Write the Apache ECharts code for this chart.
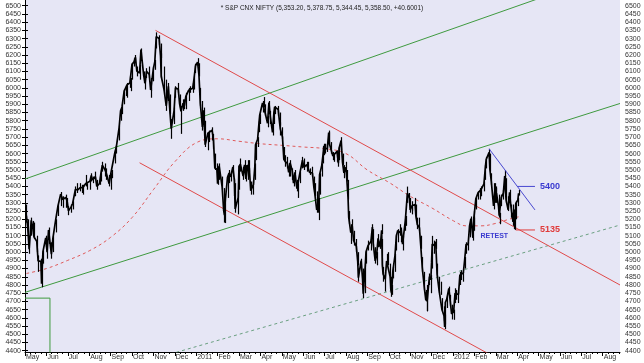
<!DOCTYPE html>
<html><head><meta charset="utf-8">
<script src="https://cdn.jsdelivr.net/npm/echarts@6/dist/echarts.min.js"></script>
<style>html,body{margin:0;padding:0;background:#fff}#c{width:644px;height:363px}</style>
</head><body><div id="c"></div>
<script>
// ---------- DATA ----------
const dates = [
'2010-05-03','2010-05-05','2010-05-07','2010-05-10','2010-05-12','2010-05-14','2010-05-18','2010-05-20','2010-05-24','2010-05-25','2010-05-27','2010-05-31',
'2010-06-02','2010-06-04','2010-06-08','2010-06-10','2010-06-14','2010-06-17','2010-06-21','2010-06-24','2010-06-28','2010-06-30',
'2010-07-02','2010-07-06','2010-07-08','2010-07-12','2010-07-15','2010-07-19','2010-07-21','2010-07-23','2010-07-27','2010-07-29',
'2010-08-02','2010-08-04','2010-08-06','2010-08-10','2010-08-12','2010-08-16','2010-08-18','2010-08-20','2010-08-24','2010-08-26','2010-08-30',
'2010-09-01','2010-09-03','2010-09-07','2010-09-09','2010-09-13','2010-09-15','2010-09-17','2010-09-20','2010-09-22','2010-09-24','2010-09-28','2010-09-30',
'2010-10-01','2010-10-04','2010-10-06','2010-10-08','2010-10-12','2010-10-14','2010-10-18','2010-10-20','2010-10-22','2010-10-26','2010-10-28','2010-10-29',
'2010-11-01','2010-11-03','2010-11-05','2010-11-09','2010-11-11','2010-11-12','2010-11-16','2010-11-18','2010-11-19','2010-11-22','2010-11-24','2010-11-26','2010-11-30',
'2010-12-02','2010-12-06','2010-12-08','2010-12-10','2010-12-13','2010-12-15','2010-12-17','2010-12-21','2010-12-23','2010-12-27','2010-12-29','2010-12-31',
'2011-01-03','2011-01-05','2011-01-07','2011-01-10','2011-01-12','2011-01-14','2011-01-18','2011-01-20','2011-01-24','2011-01-26','2011-01-28','2011-01-31',
'2011-02-01','2011-02-03','2011-02-07','2011-02-09','2011-02-10','2011-02-11','2011-02-14','2011-02-16','2011-02-18','2011-02-21','2011-02-23','2011-02-24','2011-02-28',
'2011-03-01','2011-03-03','2011-03-07','2011-03-09','2011-03-11','2011-03-14','2011-03-16','2011-03-18','2011-03-22','2011-03-24','2011-03-25','2011-03-28','2011-03-30','2011-03-31',
'2011-04-04','2011-04-06','2011-04-08','2011-04-11','2011-04-13','2011-04-15','2011-04-18','2011-04-20','2011-04-21','2011-04-26','2011-04-28','2011-04-29',
'2011-05-02','2011-05-04','2011-05-06','2011-05-09','2011-05-11','2011-05-13','2011-05-16','2011-05-18','2011-05-20','2011-05-23','2011-05-25','2011-05-27','2011-05-31',
'2011-06-02','2011-06-06','2011-06-08','2011-06-10','2011-06-14','2011-06-16','2011-06-17','2011-06-20','2011-06-22','2011-06-23','2011-06-24','2011-06-27','2011-06-29','2011-06-30',
'2011-07-01','2011-07-05','2011-07-07','2011-07-08','2011-07-11','2011-07-13','2011-07-15','2011-07-19','2011-07-21','2011-07-22','2011-07-25','2011-07-27','2011-07-29',
'2011-08-01','2011-08-02','2011-08-04','2011-08-05','2011-08-08','2011-08-10','2011-08-12','2011-08-16','2011-08-18','2011-08-19','2011-08-23','2011-08-25','2011-08-26','2011-08-29','2011-08-30',
'2011-09-02','2011-09-06','2011-09-08','2011-09-09','2011-09-12','2011-09-14','2011-09-16','2011-09-19','2011-09-21','2011-09-22','2011-09-23','2011-09-26','2011-09-28','2011-09-30',
'2011-10-03','2011-10-04','2011-10-05','2011-10-07','2011-10-10','2011-10-12','2011-10-14','2011-10-17','2011-10-19','2011-10-21','2011-10-25','2011-10-26','2011-10-28','2011-10-31',
'2011-11-01','2011-11-03','2011-11-04','2011-11-08','2011-11-09','2011-11-11','2011-11-14','2011-11-16','2011-11-18','2011-11-21','2011-11-23','2011-11-24','2011-11-25','2011-11-28','2011-11-30',
'2011-12-01','2011-12-02','2011-12-05','2011-12-07','2011-12-09','2011-12-12','2011-12-14','2011-12-16','2011-12-19','2011-12-20','2011-12-21','2011-12-23','2011-12-26','2011-12-28','2011-12-30',
'2012-01-02','2012-01-04','2012-01-06','2012-01-09','2012-01-11','2012-01-13','2012-01-16','2012-01-18','2012-01-20','2012-01-23','2012-01-25','2012-01-27','2012-01-30','2012-01-31',
'2012-02-01','2012-02-03','2012-02-06','2012-02-08','2012-02-10','2012-02-14','2012-02-16','2012-02-17','2012-02-21','2012-02-22','2012-02-24','2012-02-27','2012-02-29',
'2012-03-01','2012-03-02','2012-03-05','2012-03-06','2012-03-07','2012-03-09','2012-03-12','2012-03-14','2012-03-15','2012-03-16','2012-03-19','2012-03-21','2012-03-23','2012-03-26','2012-03-27','2012-03-28','2012-03-29','2012-03-30',
'2012-04-02','2012-04-03'
];
const highs = [
5290,5200,5100,5210,5190,5180,5100,4980,4960,4900,5010,5100,
5070,5150,5060,5100,5200,5290,5366,5340,5350,5330,
5280,5290,5310,5400,5420,5420,5410,5410,5470,5420,
5440,5480,5460,5490,5440,5460,5500,5550,5540,5510,5470,
5480,5500,5620,5650,5770,5870,5900,5990,6010,6030,6070,6060,
6150,6180,6200,6130,6140,6240,6100,6070,6120,6130,6060,6030,
6130,6170,6338,6320,6270,6210,6130,6050,5990,6030,5960,5810,5880,
6010,6030,5960,5890,5930,5930,5970,6000,6010,6030,6070,6147,
6181,6150,6000,5920,5880,5800,5730,5740,5760,5720,5600,5540,
5520,5540,5460,5390,5280,5320,5470,5500,5490,5530,5450,5420,5370,
5530,5570,5520,5560,5530,5560,5560,5430,5430,5540,5670,5700,5800,5840,
5920,5944,5900,5830,5920,5860,5790,5860,5890,5890,5850,5790,
5760,5640,5590,5580,5540,5560,5510,5460,5500,5440,5420,5490,5580,
5570,5550,5550,5510,5520,5460,5420,5370,5310,5330,5480,5540,5610,5660,
5660,5660,5740,5730,5670,5610,5600,5620,5580,5640,5700,5600,5530,
5550,5500,5440,5250,5170,5200,5130,5080,5000,4900,4960,4900,4850,4930,5010,
5070,5080,5170,5140,5030,5000,5110,5070,5170,5080,4910,4880,4990,5000,
4930,4850,4800,4910,4990,5110,5140,5170,5150,5100,5200,5220,5399,5360,
5330,5280,5310,5330,5290,5210,5210,5100,4970,4880,4770,4800,4760,4870,4860,
5000,5099,5070,5080,4930,4850,4820,4720,4670,4620,4700,4730,4790,4740,4680,
4650,4780,4770,4760,4880,4890,4880,4970,5060,5060,5170,5217,5140,5210,
5250,5330,5370,5390,5400,5430,5530,5580,5629,5600,5480,5420,5420,
5390,5400,5350,5280,5240,5350,5380,5499,5470,5450,5340,5380,5290,5290,5260,5240,5200,5310,
5330,5378.75
];
const lows = [
5180,5100,4990,5100,5110,5080,5000,4880,4880,4786,4930,5030,
4960,5050,4960,5000,5120,5220,5280,5270,5270,5280,
5225,5240,5260,5340,5360,5370,5360,5350,5400,5380,
5380,5430,5420,5440,5380,5410,5430,5490,5460,5440,5400,
5380,5450,5540,5600,5680,5800,5840,5900,5950,5940,6000,5980,
6050,6130,6150,6070,6050,6180,6030,5990,6060,6060,5980,5940,
6040,6110,6240,6260,6180,6060,5980,5960,5860,5920,5840,5690,5780,
5940,5970,5880,5720,5860,5870,5870,5920,5970,5970,5990,6090,
6130,6070,5890,5740,5750,5640,5620,5670,5680,5630,5500,5480,
5410,5440,5380,5240,5180,5177,5330,5420,5430,5460,5340,5240,5230,
5380,5490,5440,5480,5430,5440,5490,5350,5350,5440,5560,5640,5730,5780,
5850,5880,5830,5760,5840,5780,5710,5780,5840,5830,5770,5710,
5690,5560,5520,5510,5460,5460,5440,5400,5430,5370,5330,5420,5510,
5500,5490,5500,5470,5460,5380,5340,5240,5240,5195,5350,5460,5540,5590,
5600,5610,5660,5650,5600,5560,5550,5550,5520,5560,5620,5530,5450,
5480,5430,5320,5170,5050,5120,5040,5000,4920,4820,4890,4820,4720,4750,4930,
5010,5010,5100,5040,4930,4920,5030,5020,5110,4910,4820,4760,4920,4920,
4840,4728,4740,4840,4880,5010,5060,5100,5060,5010,5130,5160,5300,5300,
5240,5230,5250,5260,5200,5140,5130,5020,4880,4770,4700,4640,4640,4800,4750,
4900,4990,4990,5020,4850,4750,4740,4640,4580,4531,4560,4660,4720,4670,4590,
4588,4690,4710,4690,4800,4830,4820,4900,4990,5010,5090,5150,5070,5130,
5160,5260,5320,5320,5340,5370,5440,5510,5570,5490,5410,5260,5300,
5300,5330,5270,5210,5170,5280,5320,5390,5370,5300,5250,5320,5210,5160,5180,5140,5135,5200,
5280,5344.45
];
const closes = [
5223,5148,5018,5193,5156,5093,5066,4947,4944,4807,5003,5087,
5000,5135,4987,5080,5197,5276,5353,5320,5333,5312,
5251,5277,5296,5382,5378,5393,5399,5393,5418,5408,
5431,5467,5439,5460,5400,5418,5480,5530,5500,5477,5416,
5471,5479,5607,5640,5760,5860,5884,5980,5991,6018,6030,6030,
6143,6159,6186,6103,6090,6233,6075,6027,6101,6082,5988,6018,
6117,6160,6312,6301,6194,6071,5988,5988,5890,6010,5865,5752,5862,
6000,5992,5903,5857,5907,5892,5948,5985,5980,5998,6060,6134,
6157,6079,5904,5762,5863,5654,5724,5712,5743,5687,5512,5505,
5417,5526,5396,5253,5225,5310,5456,5481,5458,5518,5437,5262,5333,
5522,5536,5463,5531,5445,5531,5511,5374,5413,5522,5654,5687,5787,5833,
5908,5910,5842,5785,5911,5824,5729,5851,5884,5868,5785,5749,
5701,5565,5551,5541,5485,5544,5499,5420,5486,5386,5395,5476,5560,
5516,5532,5526,5485,5482,5396,5366,5257,5278,5321,5472,5526,5600,5647,
5627,5632,5728,5660,5616,5585,5581,5613,5541,5633,5680,5546,5482,
5516,5457,5332,5211,5118,5161,5072,5035,4944,4845,4948,4839,4747,4919,5001,
5040,5064,5153,5059,4946,4980,5084,5031,5133,4923,4867,4835,4946,4943,
4849,4772,4751,4888,4979,5099,5132,5118,5139,5049,5192,5201,5360,5326,
5257,5265,5284,5289,5221,5168,5148,5030,4905,4778,4706,4756,4710,4851,4832,
4936,5050,5040,5063,4866,4764,4764,4651,4613,4544,4693,4714,4779,4705,4624,
4636,4749,4754,4742,4860,4866,4873,4955,5048,5046,5158,5204,5087,5199,
5236,5325,5361,5368,5381,5416,5521,5564,5607,5505,5429,5281,5385,
5339,5359,5280,5222,5220,5333,5359,5463,5380,5317,5257,5364,5278,5184,5243,5194,5179,5296,
5318,5358.5
];
// moving average (dashed red)
const maDates = ['2010-05-03','2010-06-01','2010-07-01','2010-08-02','2010-09-01','2010-10-01','2010-11-01','2010-12-01','2011-01-03','2011-02-01','2011-03-01','2011-04-01','2011-05-02','2011-06-01','2011-07-01','2011-08-01','2011-09-01','2011-10-03','2011-11-01','2011-12-01','2012-01-02','2012-01-20','2012-02-10','2012-03-01','2012-03-20','2012-04-03'];
const maValues = [4870,4900,4950,5010,5090,5210,5380,5550,5670,5690,5675,5660,5650,5640,5630,5600,5500,5420,5340,5270,5190,5160,5160,5175,5200,5215];

// trend lines: [date, price] end points
const greenTop = [['2010-05-01',5445],['2012-08-26',6718]];
const greenMid = [['2010-05-01',4755],['2012-08-26',5905]];
const greenLow = [['2010-11-25',4380],['2012-08-26',5165]];
const redUpper = [['2010-11-04',6350],['2012-08-26',4800]];
const redLower = [['2010-10-12',5544],['2012-08-26',3943]];
const blueLine = [['2012-02-21',5629],['2012-04-26',5257]];
const greenBox = [['2010-05-01',4720],['2010-06-06',4720],['2010-06-06',4300]];
const level5400 = [['2012-04-01',5400],['2012-04-26',5400]];
const level5135 = [['2012-03-30',5135],['2012-04-26',5135]];
const retestAt = ['2012-02-28',5100];

const monthLabels = ['May','Jun','Jul','Aug','Sep','Oct','Nov','Dec','2011','Feb','Mar','Apr','May','Jun','Jul','Aug','Sep','Oct','Nov','Dec','2012','Feb','Mar','Apr','May','Jun','Jul','Aug'];
const priceTicks = [4400,4450,4500,4550,4600,4650,4700,4750,4800,4850,4900,4950,5000,5050,5100,5150,5200,5250,5300,5350,5400,5450,5500,5550,5600,5650,5700,5750,5800,5850,5900,5950,6000,6050,6100,6150,6200,6250,6300,6350,6400,6450,6500];
const titleText = '* S&P CNX NIFTY (5,353.20, 5,378.75, 5,344.45, 5,358.50, +40.6001)';

// ---------- HELPERS ----------
function toM(s){const p=s.split('-').map(Number);const dim=new Date(p[0],p[1],0).getDate();return (p[0]-2010)*12+(p[1]-5)+(p[2]-1)/dim;}
const XMAX = toM('2012-08-26');
const monthTicks = monthLabels.map((_,i)=>i);
const minorTicks = [];
for(let i=0;i<monthLabels.length+1;i++){[0.25,0.5,0.75].forEach(f=>{if(i+f<XMAX)minorTicks.push(i+f);});}
const pts = a => a.map(d=>[toM(d[0]),d[1]]);
const n = Math.min(dates.length,highs.length,lows.length,closes.length);
const barData=[],closeData=[];
for(let i=0;i<n;i++){const m=toM(dates[i]);barData.push([m,lows[i],highs[i]]);closeData.push([m,closes[i]]);}
const maData = maDates.map((d,i)=>[toM(d),maValues[i]]);

const FONT = '"Liberation Sans", Arial, sans-serif';
const lineS = (data,color,width,type,z) => ({type:'line',data:pts(data),symbol:'none',silent:true,animation:false,z:z||3,
  lineStyle:{color:color,width:width,type:type||'solid'}});

const chart = echarts.init(document.getElementById('c'),null,{renderer:'canvas'});
const yBase = {type:'value',min:4392,max:6535,splitLine:{show:false},
  axisLine:{show:true,lineStyle:{color:'#000',width:1}},
  axisTick:{show:true,length:3,customValues:priceTicks,lineStyle:{color:'#000'}},
  axisLabel:{customValues:priceTicks,formatter:v=>String(v),fontSize:7,color:'#333',fontFamily:FONT}};
chart.setOption({
  animation:false,
  title:{text:titleText,left:'center',top:0,textStyle:{fontSize:6.5,fontWeight:'normal',color:'#222',fontFamily:FONT}},
  grid:{left:25,right:24,top:0,bottom:11,show:true,backgroundColor:'#E6E6F5',borderWidth:0},
  xAxis:[
    {type:'value',min:0,max:XMAX,position:'bottom',splitLine:{show:false},
     axisLine:{show:true,onZero:false,lineStyle:{color:'#000'}},
     axisTick:{show:true,length:4,customValues:monthTicks,lineStyle:{color:'#000'}},
     axisLabel:{customValues:monthTicks,formatter:v=>monthLabels[Math.round(v)]||'',align:'left',margin:2,padding:[0,0,0,1],fontSize:7,color:'#333',fontFamily:FONT}},
    {type:'value',min:0,max:XMAX,position:'bottom',splitLine:{show:false},
     axisLine:{show:false,onZero:false},
     axisTick:{show:true,length:2,customValues:minorTicks,lineStyle:{color:'#000'}},
     axisLabel:{show:false}}
  ],
  yAxis:[
    Object.assign({},yBase,{position:'left',axisLabel:Object.assign({},yBase.axisLabel,{margin:4})}),
    Object.assign({},yBase,{position:'right',axisLabel:Object.assign({},yBase.axisLabel,{margin:5})})
  ],
  series:[
    lineS(greenTop,'#3f9a3f',1),
    lineS(greenMid,'#3f9a3f',1),
    lineS(greenLow,'#6a9f80',1,[3,3]),
    lineS(greenBox,'#3f9a3f',1),
    lineS(redUpper,'#e04a4a',1),
    lineS(redLower,'#e04a4a',1),
    {type:'line',data:maData,symbol:'none',smooth:0.4,silent:true,z:3,lineStyle:{color:'#e05a5a',width:1,type:[3,3]}},
    {type:'custom',data:barData,z:5,silent:true,encode:{x:0,y:[1,2]},
      renderItem:function(params,api){
        const p1=api.coord([api.value(0),api.value(1)]);const p2=api.coord([api.value(0),api.value(2)]);
        const x=Math.round(p1[0])+0.5;
        return {type:'line',shape:{x1:x,y1:p1[1],x2:x,y2:p2[1]},style:{stroke:'#000',lineWidth:1.2}};
      }},
    {type:'line',data:closeData,symbol:'none',silent:true,z:5,lineStyle:{color:'#000',width:1.7}},
    lineS(blueLine,'#4848d0',1,'solid',6),
    Object.assign(lineS(level5400,'#4848d0',1,'solid',6),{endLabel:{show:true,formatter:'5400',color:'#3a3ad0',fontWeight:'bold',fontSize:9,distance:5,fontFamily:FONT}}),
    Object.assign(lineS(level5135,'#e03a3a',1,'solid',6),{endLabel:{show:true,formatter:'5135',color:'#e03a3a',fontWeight:'bold',fontSize:9,distance:5,fontFamily:FONT}}),
    {type:'custom',data:[[toM(retestAt[0]),retestAt[1]]],z:7,silent:true,encode:{x:0,y:1},
      renderItem:function(params,api){
        const p=api.coord([api.value(0),api.value(1)]);
        return {type:'text',x:p[0],y:p[1],style:{text:'RETEST',fill:'#3a3ad0',font:'bold 7px '+FONT,align:'center',verticalAlign:'middle'}};
      }}
  ]
});
</script>
</body></html>
